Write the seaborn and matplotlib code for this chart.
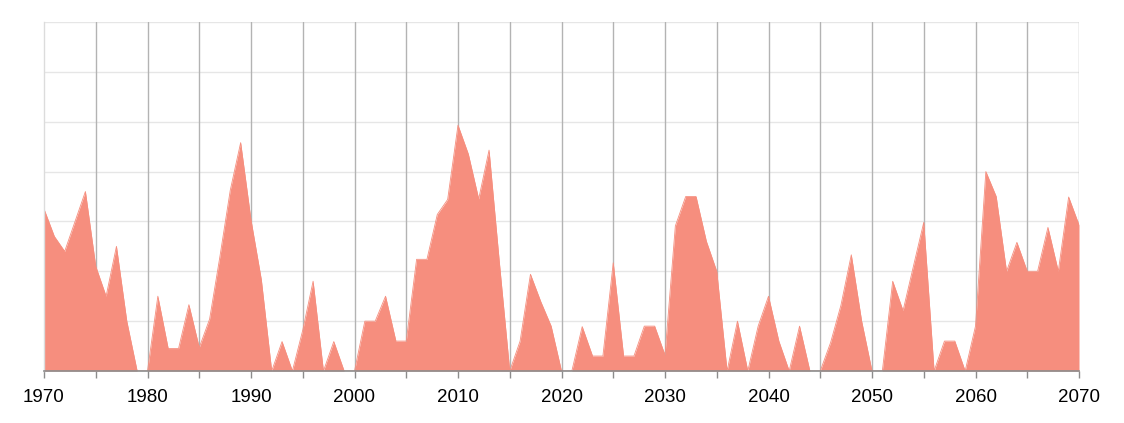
import numpy as np
import pandas as pd
import seaborn as sns
import matplotlib.pyplot as plt
from matplotlib.ticker import MultipleLocator

sns.set_theme(style="white")
plt.rcParams['font.family'] = ['Liberation Sans', 'DejaVu Sans']

years = list(range(1970, 2071))
values = [
    32.5, 27, 24, 30, 36, 21, 15, 25, 10, 0,
    0, 15, 4.5, 4.5, 13.3, 4.7, 10.4, 23, 36.3, 45.8,
    30.3, 18.3, 0, 5.9, 0, 8.2, 18, 0, 5.9, 0,
    0, 10, 10, 15, 6, 6, 22.4, 22.4, 31.4, 34.4,
    49.3, 43.5, 34.5, 44.3, 21.7, 0, 6, 19.4, 13.9, 9,
    0, 0, 8.9, 3, 3, 21.7, 3, 3, 9, 9,
    3.2, 29.1, 35, 35, 26, 20, 0, 10, 0, 9,
    15, 6, 0, 9, 0, 0, 5.7, 13.2, 23.3, 10,
    0, 0, 18, 12.1, 21, 29.8, 0, 6, 6, 0,
    9, 40, 35, 20, 25.8, 20, 20, 28.8, 20, 34.9, 29.3,
]
df = pd.DataFrame({"year": years, "value": values})

fill_color = "#f68e7e"

fig = plt.figure(figsize=(11.24, 4.23), dpi=100)
ax = fig.add_axes([44 / 1124, 52 / 423, (1079 - 44) / 1124, (371 - 22) / 423])

ax.fill_between(df["year"], df["value"], 0, color=fill_color, linewidth=0, zorder=2)
sns.lineplot(data=df, x="year", y="value", ax=ax, color=fill_color, linewidth=0.6, zorder=2)

ax.set_xlim(1970, 2070)
ax.set_ylim(0, 70)

# horizontal grid (light)
for yv in range(10, 71, 10):
    ax.axhline(yv, color="#e6e6e6", linewidth=1, zorder=0)
# vertical grid every 5 years (darker)
for xv in range(1975, 2071, 5):
    ax.axvline(xv, color="#b3b3b3", linewidth=1, zorder=1)

ax.xaxis.set_minor_locator(MultipleLocator(5))
ax.set_xticks(range(1970, 2071, 10))
ax.set_xticklabels([str(y) for y in range(1970, 2071, 10)])
ax.tick_params(axis="x", which="both", direction="out", length=5, width=1,
               color="#8c8c8c", labelsize=13.5, labelcolor="black", pad=8, bottom=True)
ax.set_yticks([])
ax.set_xlabel("")
ax.set_ylabel("")

for s in ["top", "right"]:
    ax.spines[s].set_visible(False)
ax.spines["left"].set_color("#dcdcdc")
ax.spines["left"].set_linewidth(1)
ax.spines["bottom"].set_color("#8c8c8c")
ax.spines["bottom"].set_linewidth(1.2)
ax.spines["bottom"].set_zorder(3)

fig.savefig("out.png", dpi=100)
